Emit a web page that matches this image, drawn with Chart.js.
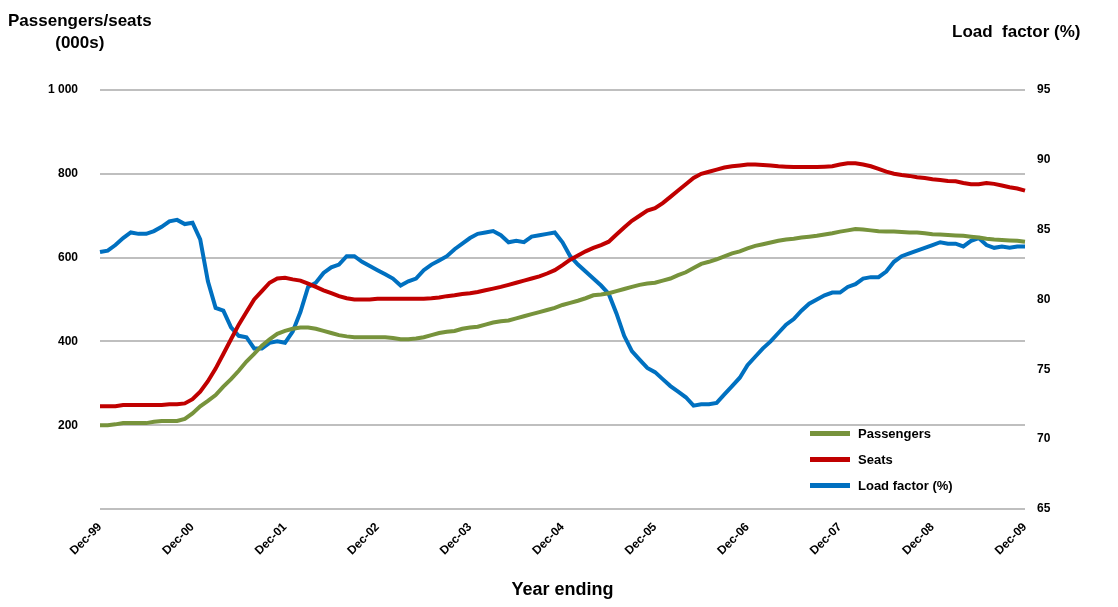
<!DOCTYPE html>
<html>
<head>
<meta charset="utf-8">
<script src="https://cdn.jsdelivr.net/npm/chart.js@4"></script>
<style>
  body { margin: 0; background: #fff; font-family: Arial, "Liberation Sans", sans-serif; }
  #wrap { position: relative; width: 1118px; height: 607px; }
  .ttl { position: absolute; font-weight: bold; font-size: 17px; color: #000; }
  #legend { position: absolute; left: 810px; top: 420px; font-size: 13px; font-weight: bold; }
  #legend div { display: flex; align-items: center; height: 26px; }
  #legend span.sw { display: inline-block; width: 40px; height: 5px; margin-right: 8px; }
</style>
</head>
<body>
<div id="wrap">
  <canvas id="c" width="1118" height="607"></canvas>
  <div class="ttl" style="left:8px;top:10px;text-align:center;line-height:22px">Passengers/seats<br>(000s)</div>
  <div class="ttl" style="left:952px;top:22px">Load&nbsp; factor (%)</div>
  <div id="legend">
    <div><span class="sw" style="background:#77933C"></span>Passengers</div>
    <div><span class="sw" style="background:#C00000"></span>Seats</div>
    <div><span class="sw" style="background:#0070C0"></span>Load factor (%)</div>
  </div>
</div>
<script>
// monthly, Dec-99 .. Dec-09
const years = ["00","01","02","03","04","05","06","07","08","09"];
const months = ["Jan","Feb","Mar","Apr","May","Jun","Jul","Aug","Sep","Oct","Nov","Dec"];

const passengers = [200,
  200,202,205,205,205,205,208,210,210,210,215,228,
  245,258,272,292,310,330,352,370,390,405,418,425,
  430,433,433,430,425,420,415,412,410,410,410,410,
  410,408,405,405,407,410,415,420,423,425,430,433,
  435,440,445,448,450,455,460,465,470,475,480,487,
  492,497,503,510,512,515,520,525,530,535,538,540,
  545,550,558,565,575,585,590,596,603,610,615,622,
  628,632,636,640,643,645,648,650,652,655,658,662,
  665,668,667,665,663,662,662,661,660,660,658,656,
  655,654,653,652,650,648,645,643,642,641,640,638];

const seats = [245,
  245,245,248,248,248,248,248,248,250,250,252,262,
  280,305,335,370,405,440,470,500,520,540,550,552,
  548,545,538,530,522,515,508,503,500,500,500,502,
  502,502,502,502,502,502,503,505,508,510,513,515,
  518,522,526,530,535,540,545,550,555,562,570,582,
  595,605,615,623,630,638,655,672,688,700,712,718,
  730,745,760,775,790,800,805,810,815,818,820,822,
  822,821,820,818,817,816,816,816,816,817,818,822,
  825,825,822,818,812,805,800,797,795,792,790,787,
  785,783,782,778,775,775,778,776,772,768,765,760];

const loadFactor = [83.4,
  83.5,83.9,84.4,84.8,84.7,84.7,84.9,85.2,85.6,85.7,85.4,85.5,
  84.3,81.3,79.4,79.2,78.0,77.4,77.3,76.5,76.5,76.9,77.0,76.9,
  77.7,79.1,80.9,81.2,81.9,82.3,82.5,83.1,83.1,82.7,82.4,82.1,
  81.8,81.5,81.0,81.3,81.5,82.1,82.5,82.8,83.1,83.6,84.0,84.4,
  84.7,84.8,84.9,84.6,84.1,84.2,84.1,84.5,84.6,84.7,84.8,84.1,
  83.1,82.5,82.0,81.5,81.0,80.4,79.0,77.4,76.3,75.7,75.1,74.8,
  74.3,73.8,73.4,73.0,72.4,72.5,72.5,72.6,73.2,73.8,74.4,75.3,
  75.9,76.5,77.0,77.6,78.2,78.6,79.2,79.7,80.0,80.3,80.5,80.5,
  80.9,81.1,81.5,81.6,81.6,82.0,82.7,83.1,83.3,83.5,83.7,83.9,
  84.1,84.0,84.0,83.8,84.2,84.4,83.9,83.7,83.8,83.7,83.8,83.8];

const labels = ["Dec-99"];
years.forEach(y => months.forEach(m => labels.push(m + "-" + y)));

const bold = { family: "Arial, 'Liberation Sans', sans-serif", weight: "bold", size: 12 };

new Chart(document.getElementById("c"), {
  type: "line",
  data: {
    labels: labels,
    datasets: [
      { label: "Passengers", data: passengers, borderColor: "#77933C", yAxisID: "y" },
      { label: "Seats", data: seats, borderColor: "#C00000", yAxisID: "y" },
      { label: "Load factor (%)", data: loadFactor, borderColor: "#0070C0", yAxisID: "y2" }
    ]
  },
  options: {
    responsive: false,
    animation: false,
    layout: { padding: { top: 90, left: 0, right: 0, bottom: 0 } },
    elements: { point: { radius: 0 }, line: { borderWidth: 4, tension: 0 } },
    plugins: { legend: { display: false }, tooltip: { enabled: false } },
    scales: {
      x: {
        offset: false,
        grid: { display: false },
        border: { display: false },
        ticks: {
          autoSkip: false, maxRotation: 45, minRotation: 45, color: "#000", font: bold,
          callback: (v, i) => labels[i].startsWith("Dec") ? labels[i] : ""
        },
        title: { display: true, text: "Year ending", color: "#000", padding: { top: 0, bottom: 6 },
                 font: { family: "Arial, 'Liberation Sans', sans-serif", weight: "bold", size: 18 } },
        afterFit: s => { s.height = 98; }
      },
      y: {
        position: "left", min: 0, max: 1000,
        grid: { color: "#BFBFBF", lineWidth: 2, drawTicks: false },
        border: { display: false },
        ticks: {
          stepSize: 200, color: "#000", font: bold, padding: 22,
          callback: v => v === 0 ? "" : (v >= 1000 ? "1 000" : String(v))
        },
        afterFit: s => { s.width = 100; }
      },
      y2: {
        position: "right", min: 65, max: 95,
        grid: { display: false },
        border: { display: false },
        ticks: { stepSize: 5, color: "#000", font: bold, padding: 4 },
        afterFit: s => { s.width = 93; }
      }
    }
  }
});
</script>
</body>
</html>
